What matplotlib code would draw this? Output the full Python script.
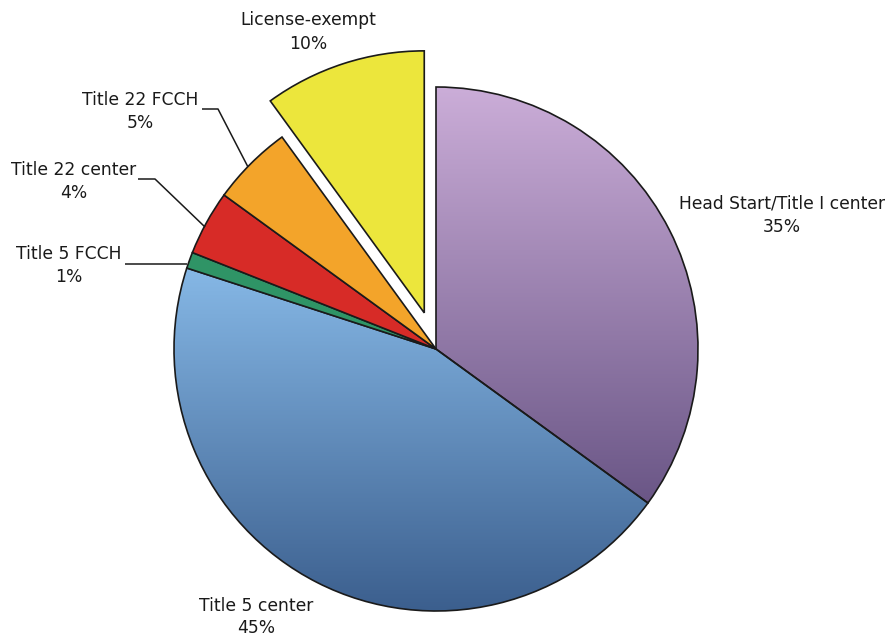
import numpy as np
import matplotlib.pyplot as plt
from matplotlib.colors import LinearSegmentedColormap

plt.rcParams["font.family"] = ["DejaVu Sans"]

H = 637
R = 262

labels = ["Head Start/Title I center", "Title 5 center", "Title 5 FCCH",
          "Title 22 center", "Title 22 FCCH", "License-exempt"]
shares = [35, 45, 1, 4, 5, 10]
colors = ["#a98bbd", "#5f90c4", "#2f9466", "#d72b27", "#f3a42a", "#ece63c"]
explode = [0, 0, 0, 0, 0, 0.145]

# vertical gradients (top colour, bottom colour) for the two large slices
gradients = {0: ("#cbadd8", "#6a5686"), 1: ("#86b8e6", "#3a5d8c")}

# label anchors (x, y from top) for name line and percent line
label_pos = [(782, 204, 227), (256, 606, 628), (69, 254, 277),
             (74, 170, 193), (140, 100, 123), (308, 20, 44)]

# leader lines for the small slices, y measured from top
leaders = {
    2: [(125, 264), (187, 264)],
    3: [(138, 179), (155, 179), (205, 227)],
    4: [(202, 109), (218, 109), (248, 167)],
}

fig = plt.figure(figsize=(8.9, 6.37), dpi=100)
ax = fig.add_axes([0, 0, 1, 1])

# pie() offsets exploded wedges in data units, so scale by the radius
wedges, _ = ax.pie(shares, colors=colors, explode=[e * R for e in explode],
                   startangle=90, counterclock=False,
                   center=(436, H - 349), radius=R, frame=True,
                   wedgeprops=dict(edgecolor="#1a1a1a", linewidth=1.2))

for i, (top, bottom) in gradients.items():
    w = wedges[i]
    verts = w.get_path().vertices
    x0, x1 = verts[:, 0].min(), verts[:, 0].max()
    y0, y1 = verts[:, 1].min(), verts[:, 1].max()
    cmap = LinearSegmentedColormap.from_list(f"g{i}", [bottom, top])
    grad = np.linspace(0, 1, 256).reshape(-1, 1)
    im = ax.imshow(grad, extent=(x0, x1, y0, y1), origin="lower",
                   cmap=cmap, aspect="auto", zorder=0.5,
                   interpolation="bilinear")
    im.set_clip_path(w)
    w.set_facecolor("none")

for i, pts in leaders.items():
    xs = [p[0] for p in pts]
    ys = [H - p[1] for p in pts]
    ax.plot(xs, ys, color="#1a1a1a", lw=1.1, solid_capstyle="butt")

for name, share, (x, y1, y2) in zip(labels, shares, label_pos):
    ax.text(x, H - y1, name, ha="center", va="center", fontsize=12.3,
            color="#1a1a1a")
    ax.text(x, H - y2, f"{share}%", ha="center", va="center",
            fontsize=12.3, color="#1a1a1a")

ax.set_xlim(0, 890)
ax.set_ylim(0, H)
ax.set_aspect("equal")
ax.axis("off")

fig.savefig("out.png", dpi=100)
